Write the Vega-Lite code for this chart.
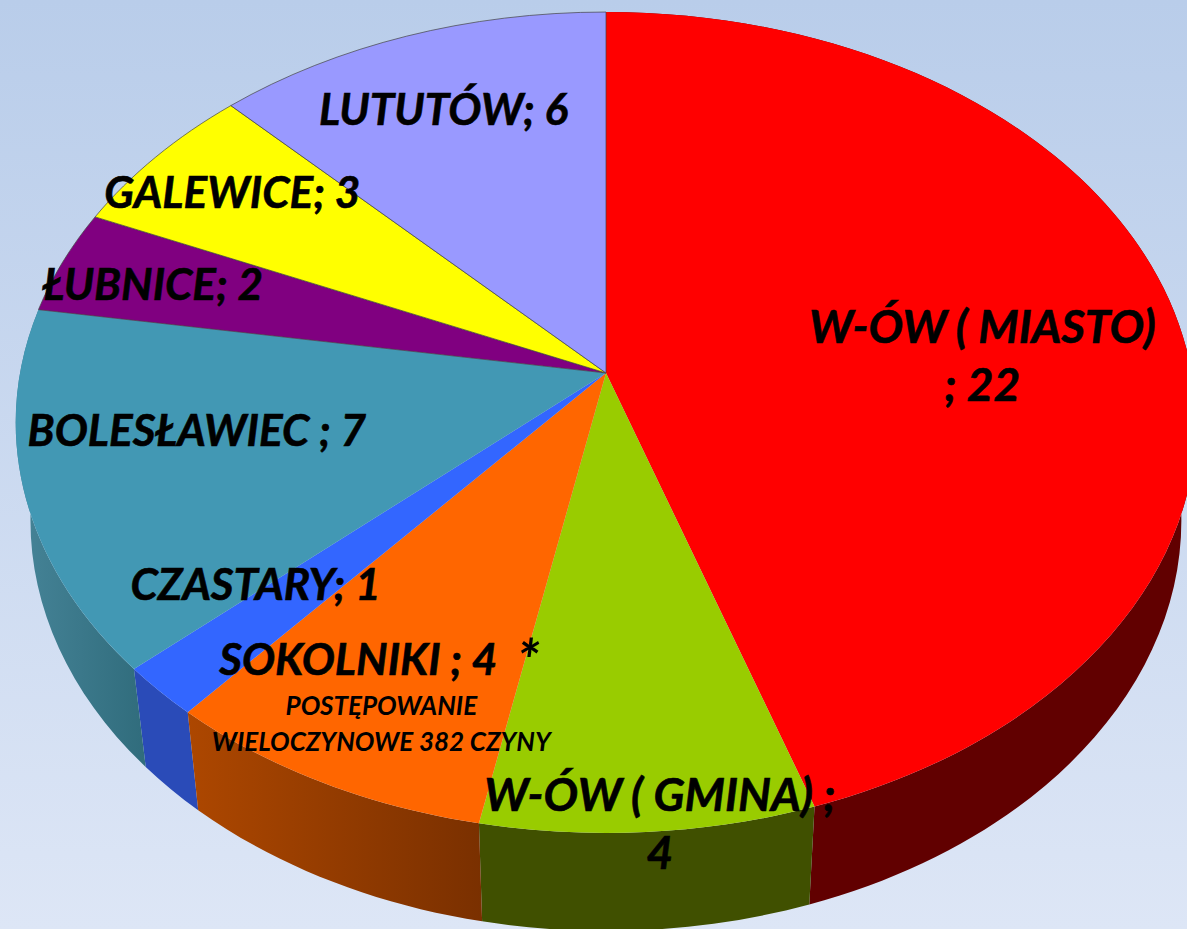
{
"$schema":"https://vega.github.io/schema/vega-lite/v6.json",
"width":1187,"height":929,"padding":0,"autosize":{"type":"none"},
"view":{"stroke":null,"fill":{"gradient":"linear","x1":0,"y1":0,"x2":0,"y2":1,"stops":[{"offset":0,"color":"#b9cdea"},{"offset":1,"color":"#dde6f6"}]}},
"data":{"values":[
{"order":0,"name":"W-ÓW ( MIASTO)","value":22,"label":"W-ÓW ( MIASTO)\n; 22"},
{"order":1,"name":"W-ÓW ( GMINA)","value":4,"label":"W-ÓW ( GMINA) ;\n4"},
{"order":2,"name":"SOKOLNIKI","value":4,"label":"SOKOLNIKI ; 4","marker":"*","note":"POSTĘPOWANIE\nWIELOCZYNOWE 382 CZYNY"},
{"order":3,"name":"CZASTARY","value":1,"label":"CZASTARY; 1"},
{"order":4,"name":"BOLESŁAWIEC","value":7,"label":"BOLESŁAWIEC ; 7"},
{"order":5,"name":"ŁUBNICE","value":2,"label":"ŁUBNICE; 2"},
{"order":6,"name":"GALEWICE","value":3,"label":"GALEWICE; 3"},
{"order":7,"name":"LUTUTÓW","value":6,"label":"LUTUTÓW; 6"}
]},
"transform":[
{"stack":"value","groupby":[],"sort":[{"field":"order","order":"ascending"}],"as":["v0","v1"]},
{"joinaggregate":[{"op":"sum","field":"value","as":"total"}]},
{"calculate":"2*PI*datum.v0/datum.total","as":"a0"},
{"calculate":"2*PI*datum.v1/datum.total","as":"a1"},
{"calculate":"(datum.a0+datum.a1)/2","as":"am"},
{"calculate":"round(100*586*sin(datum.a0)/(1+0.1206*cos(datum.a0)))/100","as":"x0"},
{"calculate":"round(-100*404.5*cos(datum.a0)/(1+0.1206*cos(datum.a0)))/100","as":"y0"},
{"calculate":"round(100*586*sin(datum.a1)/(1+0.1206*cos(datum.a1)))/100","as":"x1"},
{"calculate":"round(-100*404.5*cos(datum.a1)/(1+0.1206*cos(datum.a1)))/100","as":"y1"},
{"calculate":"'M0,0L'+datum.x0+','+datum.y0+'A590.3,410.5,0,0,1,'+datum.x1+','+datum.y1+'Z'","as":"topPath"},
{"calculate":"'M'+datum.x0+','+datum.y0+'A590.3,410.5,0,0,1,'+datum.x1+','+datum.y1+'L'+round(97.5*datum.x1)/100+','+(datum.y1+98)+'A575.5,410.5,0,0,0,'+round(97.5*datum.x0)/100+','+(datum.y0+98)+'Z'","as":"wallPath"},
{"calculate":"606","as":"cx"},
{"calculate":"373","as":"cy"},
{"calculate":"datum.cx+0.7*586*sin(datum.am)/(1+0.1206*cos(datum.am))","as":"ax"},
{"calculate":"datum.cy-0.7*404.5*cos(datum.am)/(1+0.1206*cos(datum.am))","as":"ay"},
{"calculate":"datum.ax+[-21,24,-48,-38,-2,-73,-59,-24][datum.order]","as":"lx"},
{"calculate":"datum.ay+[0,103,3,-9,-23,-8,-26,-25][datum.order]","as":"ly"}
],
"layer":[
{"transform":[{"filter":"datum.order==0||datum.order==1||datum.order==3"}],
 "mark":{"type":"point","filled":true,"opacity":1,"size":4,"strokeWidth":0},
 "encoding":{
  "x":{"field":"cx","type":"quantitative","scale":{"domain":[0,1187],"range":[0,1187]},"axis":null},
  "y":{"field":"cy","type":"quantitative","scale":{"domain":[0,929],"range":[0,929]},"axis":null},
  "shape":{"field":"wallPath","type":"nominal","scale":null,"legend":null},
  "color":{"field":"name","type":"nominal","legend":null,"scale":{"domain":["W-ÓW ( MIASTO)","W-ÓW ( GMINA)","CZASTARY"],"range":["#610000","#405000","#2a4bb8"]}}
 }},
{"transform":[{"filter":"datum.order==2"}],
 "mark":{"type":"point","filled":true,"opacity":1,"size":4,"strokeWidth":0,"fill":{"gradient":"linear","x1":0,"y1":0,"x2":1,"y2":0,"stops":[{"offset":0,"color":"#ad4700"},{"offset":1,"color":"#7a3000"}]}},
 "encoding":{
  "x":{"field":"cx","type":"quantitative","scale":{"domain":[0,1187],"range":[0,1187]},"axis":null},
  "y":{"field":"cy","type":"quantitative","scale":{"domain":[0,929],"range":[0,929]},"axis":null},
  "shape":{"field":"wallPath","type":"nominal","scale":null,"legend":null}
 }},
{"transform":[{"filter":"datum.order==4"}],
 "mark":{"type":"point","filled":true,"opacity":1,"size":4,"strokeWidth":0,"fill":{"gradient":"linear","x1":0,"y1":0,"x2":1,"y2":0,"stops":[{"offset":0,"color":"#468498"},{"offset":1,"color":"#306c7c"}]}},
 "encoding":{
  "x":{"field":"cx","type":"quantitative","scale":{"domain":[0,1187],"range":[0,1187]},"axis":null},
  "y":{"field":"cy","type":"quantitative","scale":{"domain":[0,929],"range":[0,929]},"axis":null},
  "shape":{"field":"wallPath","type":"nominal","scale":null,"legend":null}
 }},
{"mark":{"type":"point","filled":true,"opacity":1,"size":4,"strokeWidth":0.7},
 "encoding":{
  "x":{"field":"cx","type":"quantitative","scale":{"domain":[0,1187],"range":[0,1187]},"axis":null},
  "y":{"field":"cy","type":"quantitative","scale":{"domain":[0,929],"range":[0,929]},"axis":null},
  "shape":{"field":"topPath","type":"nominal","scale":null,"legend":null},
  "stroke":{"condition":{"test":"datum.order>=5","value":"#444444"},"value":null},
  "fill":{"field":"order","type":"ordinal","legend":null,"scale":{"domain":[0,1,2,3,4,5,6,7],"range":["#ff0000","#99cc00","#ff6600","#3366ff","#4298b4","#800080","#ffff00","#9999ff"]}}
 }},
{"mark":{"type":"text","font":"Lato","fontWeight":"bold","fontStyle":"italic","color":"#000000","stroke":"#000000","strokeWidth":0.6,"lineBreak":"\n","lineHeight":58,"align":"center","baseline":"middle"},
 "encoding":{
  "x":{"field":"lx","type":"quantitative","scale":{"domain":[0,1187],"range":[0,1187]},"axis":null},
  "y":{"field":"ly","type":"quantitative","scale":{"domain":[0,929],"range":[0,929]},"axis":null},
  "size":{"condition":{"test":"datum.order<2","value":46},"value":44},
  "text":{"field":"label"}
 }},
{"transform":[{"filter":"isValid(datum.note)"}],
 "mark":{"type":"text","font":"Lato","fontWeight":"bold","fontStyle":"italic","fontSize":26,"color":"#000000","lineBreak":"\n","lineHeight":36,"align":"center","baseline":"middle","dx":-25,"dy":48},
 "encoding":{
  "x":{"field":"ax","type":"quantitative","scale":{"domain":[0,1187],"range":[0,1187]},"axis":null},
  "y":{"field":"ay","type":"quantitative","scale":{"domain":[0,929],"range":[0,929]},"axis":null},
  "text":{"field":"note"}
 }},
{"transform":[{"filter":"isValid(datum.marker)"}],
 "mark":{"type":"text","font":"Lato","fontWeight":"bold","fontStyle":"italic","fontSize":58,"color":"#000000","align":"center","baseline":"middle","dx":122,"dy":5},
 "encoding":{
  "x":{"field":"ax","type":"quantitative","scale":{"domain":[0,1187],"range":[0,1187]},"axis":null},
  "y":{"field":"ay","type":"quantitative","scale":{"domain":[0,929],"range":[0,929]},"axis":null},
  "text":{"field":"marker"}
 }}
]
}
